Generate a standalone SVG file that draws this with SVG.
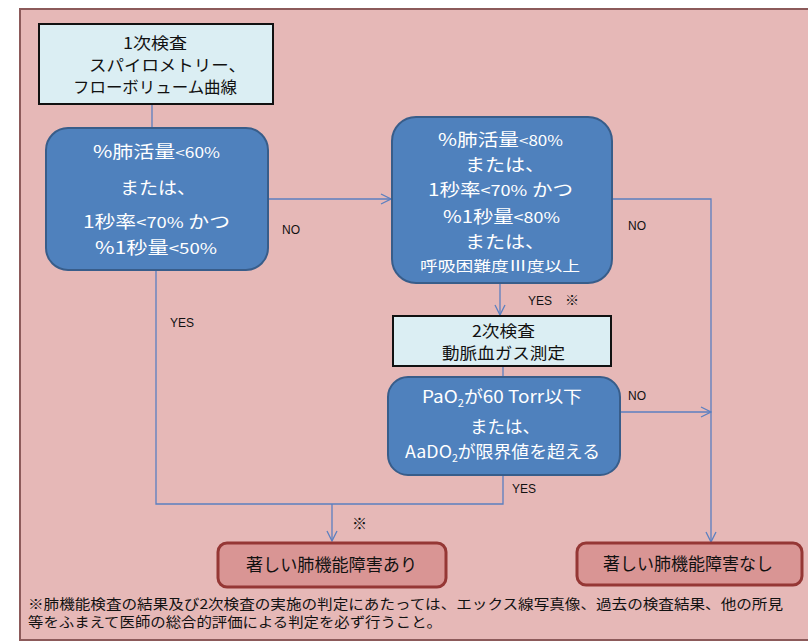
<svg xmlns="http://www.w3.org/2000/svg" width="808" height="643" viewBox="0 0 808 643">
<defs>
<marker id="arr" viewBox="0 0 12 12" refX="11" refY="6" markerWidth="12" markerHeight="12" markerUnits="userSpaceOnUse" orient="auto">
<path d="M1,1 L11,6 L1,11" fill="none" stroke="#5b7fc0" stroke-width="1.3"/>
</marker>
<style>
.jp{font-family:"Noto Sans CJK JP","Noto Sans",sans-serif;}
.lab{font-family:"Liberation Sans",Arial,"Noto Sans CJK JP",sans-serif;font-size:12px;fill:#111;}
.light{fill:#dbeef3;stroke:#111;stroke-width:2;}
.dec{fill:#4f81bd;stroke:#385d8a;stroke-width:2;}
.res{fill:#d99594;stroke:#953735;stroke-width:3;}
.wt{fill:#fff;}
.bk{fill:#111;}
.con{fill:none;stroke:#5b7fc0;stroke-width:1.3;}
</style>
</defs>
<rect x="0" y="0" width="808" height="643" fill="#ffffff"/>
<rect x="20" y="9" width="790" height="631" fill="#e6b8b7" stroke="#8c5a5a" stroke-width="2"/>

<g id="connectors">
<line class="con" x1="152" y1="104" x2="152" y2="128"/>
<line class="con" x1="268" y1="199" x2="391" y2="199" marker-end="url(#arr)"/>
<polyline class="con" points="612,199 711,199 711,542" marker-end="url(#arr)"/>
<line class="con" x1="500" y1="283" x2="500" y2="315" marker-end="url(#arr)"/>
<line class="con" x1="503" y1="366" x2="503" y2="377"/>
<line class="con" x1="620" y1="412" x2="711" y2="412" marker-end="url(#arr)"/>
<polyline class="con" points="156,270 156,504 503,504 503,475"/>
<line class="con" x1="332" y1="504" x2="332" y2="541" marker-end="url(#arr)"/>
</g>

<g id="labels" class="lab">
<text x="282" y="234">NO</text>
<text x="628" y="230">NO</text>
<text x="170" y="327">YES</text>
<text x="528" y="305">YES</text>
<text x="565" y="305" font-size="14">※</text>
<text x="628" y="400">NO</text>
<text x="512" y="493">YES</text>
<text x="352" y="529" font-size="15">※</text>
</g>

<g id="n-first">
<rect class="light" x="39" y="24" width="234" height="80"/>
<g class="jp bk" font-size="16">
<text x="123" y="49" textLength="64" lengthAdjust="spacingAndGlyphs">1次検査</text>
<text x="89" y="71" textLength="157" lengthAdjust="spacingAndGlyphs">スパイロメトリー、</text>
<text x="73" y="93" textLength="164" lengthAdjust="spacingAndGlyphs">フローボリューム曲線</text>
</g>
</g>

<g id="n-dec1">
<rect class="dec" x="46" y="128" width="222" height="142" rx="22"/>
<g class="jp wt" font-size="17">
<text x="93" y="158" textLength="127" lengthAdjust="spacingAndGlyphs">%肺活量<tspan font-size="14">&lt;60%</tspan></text>
<text x="120" y="194" textLength="76" lengthAdjust="spacingAndGlyphs">または、</text>
<text x="83" y="228" textLength="147" lengthAdjust="spacingAndGlyphs">1秒率<tspan font-size="15">&lt;70%</tspan> かつ</text>
<text x="95" y="254" textLength="122" lengthAdjust="spacingAndGlyphs">%1秒量<tspan font-size="15">&lt;50%</tspan></text>
</g>
</g>

<g id="n-dec2">
<rect class="dec" x="392" y="117" width="220" height="166" rx="24"/>
<g class="jp wt" font-size="17">
<text x="438" y="146" textLength="125" lengthAdjust="spacingAndGlyphs">%肺活量<tspan font-size="14">&lt;80%</tspan></text>
<text x="465" y="171" textLength="80" lengthAdjust="spacingAndGlyphs">または、</text>
<text x="428" y="196" textLength="145" lengthAdjust="spacingAndGlyphs">1秒率<tspan font-size="15">&lt;70%</tspan> かつ</text>
<text x="443" y="223" textLength="117" lengthAdjust="spacingAndGlyphs">%1秒量<tspan font-size="15">&lt;80%</tspan></text>
<text x="465" y="248" textLength="80" lengthAdjust="spacingAndGlyphs">または、</text>
<text x="420" y="271" font-size="14" textLength="160" lengthAdjust="spacingAndGlyphs">呼吸困難度Ⅲ度以上</text>
</g>
</g>

<g id="n-second">
<rect class="light" x="393" y="316" width="218" height="50"/>
<g class="jp bk" font-size="16">
<text x="472" y="337" textLength="63" lengthAdjust="spacingAndGlyphs">2次検査</text>
<text x="442" y="359" textLength="123" lengthAdjust="spacingAndGlyphs">動脈血ガス測定</text>
</g>
</g>

<g id="n-dec3">
<rect class="dec" x="388" y="377" width="232" height="98" rx="20"/>
<g class="jp wt" font-size="17">
<text x="422" y="403" textLength="160" lengthAdjust="spacingAndGlyphs">PaO<tspan font-size="10" dy="4">2</tspan><tspan dy="-4">が60 Torr以下</tspan></text>
<text x="470" y="433" textLength="70" lengthAdjust="spacingAndGlyphs">または、</text>
<text x="405" y="458" textLength="195" lengthAdjust="spacingAndGlyphs">AaDO<tspan font-size="10" dy="4">2</tspan><tspan dy="-4">が限界値を超える</tspan></text>
</g>
</g>

<g id="n-yes">
<rect class="res" x="218" y="543" width="228" height="44" rx="9"/>
<text class="jp bk" font-size="17" x="246" y="571" textLength="171" lengthAdjust="spacingAndGlyphs">著しい肺機能障害あり</text>
</g>

<g id="n-no">
<rect class="res" x="577" y="543" width="225" height="42" rx="9"/>
<text class="jp bk" font-size="17" x="603" y="570" textLength="170" lengthAdjust="spacingAndGlyphs">著しい肺機能障害なし</text>
</g>

<g id="note" class="jp" font-size="13.5" fill="#111">
<text x="28" y="609" textLength="755" lengthAdjust="spacingAndGlyphs">※肺機能検査の結果及び2次検査の実施の判定にあたっては、エックス線写真像、過去の検査結果、他の所見</text>
<text x="28" y="627" textLength="414" lengthAdjust="spacingAndGlyphs">等をふまえて医師の総合的評価による判定を必ず行うこと。</text>
</g>
</svg>
